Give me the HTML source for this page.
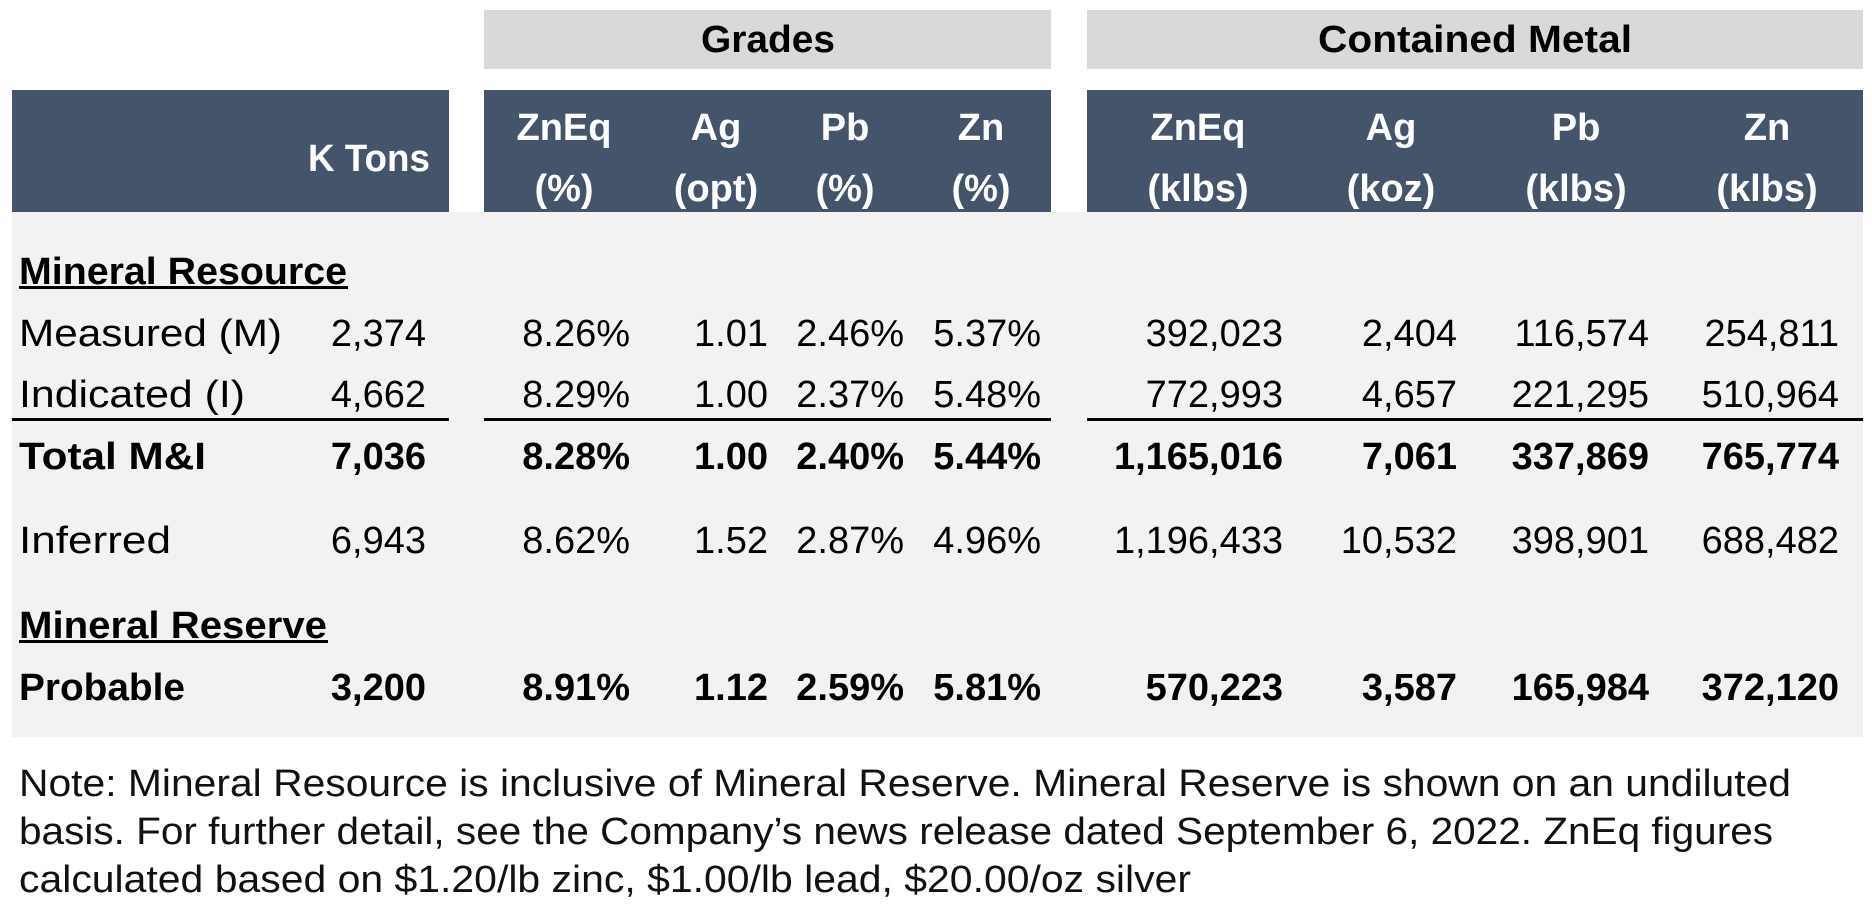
<!DOCTYPE html>
<html><head><meta charset="utf-8"><style>
html,body{margin:0;padding:0;background:#fff;}
svg{display:block;}
text{font-family:"Liberation Sans",Arial,sans-serif;fill:#000;}
.n{font-size:38px;text-anchor:end;dominant-baseline:central;}
.b{font-weight:bold;}
.h{font-size:38px;font-weight:bold;fill:#fff;text-anchor:middle;dominant-baseline:central;}
.l{font-size:38px;dominant-baseline:central;}
</style></head><body>
<svg width="1872" height="918" viewBox="0 0 1872 918" xmlns="http://www.w3.org/2000/svg">
<rect x="484" y="10" width="567" height="59" fill="#d9d9d9"/>
<rect x="1087" y="10" width="776" height="59" fill="#d9d9d9"/>
<text x="768" y="40" class="h" style="fill:#000" textLength="134" lengthAdjust="spacingAndGlyphs">Grades</text>
<text x="1475" y="40" class="h" style="fill:#000" textLength="314" lengthAdjust="spacingAndGlyphs">Contained Metal</text>
<rect x="12" y="90" width="437" height="122" fill="#44546a"/>
<rect x="484" y="90" width="567" height="122" fill="#44546a"/>
<rect x="1087" y="90" width="776" height="122" fill="#44546a"/>
<rect x="12" y="212" width="1851" height="525" fill="#f2f2f2"/>
<text x="430" y="159" class="h" style="text-anchor:end" textLength="122" lengthAdjust="spacingAndGlyphs">K Tons</text>
<g>
<text x="564" y="128" class="h">ZnEq</text><text x="564" y="189" class="h">(%)</text>
<text x="716" y="128" class="h">Ag</text><text x="716" y="189" class="h">(opt)</text>
<text x="845" y="128" class="h">Pb</text><text x="845" y="189" class="h">(%)</text>
<text x="981" y="128" class="h">Zn</text><text x="981" y="189" class="h">(%)</text>
<text x="1198" y="128" class="h">ZnEq</text><text x="1198" y="189" class="h">(klbs)</text>
<text x="1391" y="128" class="h">Ag</text><text x="1391" y="189" class="h">(koz)</text>
<text x="1576" y="128" class="h">Pb</text><text x="1576" y="189" class="h">(klbs)</text>
<text x="1767" y="128" class="h">Zn</text><text x="1767" y="189" class="h">(klbs)</text>
</g>
<text x="19" y="272" class="l b" textLength="328" lengthAdjust="spacingAndGlyphs">Mineral Resource</text>
<rect x="19" y="286" width="329" height="3" fill="#000"/>
<text x="19" y="334" class="l" textLength="263" lengthAdjust="spacingAndGlyphs">Measured (M)</text>
<text x="19" y="395" class="l" textLength="226" lengthAdjust="spacingAndGlyphs">Indicated (I)</text>
<text x="19" y="457" class="l b" textLength="187" lengthAdjust="spacingAndGlyphs">Total M&amp;I</text>
<text x="19" y="541" class="l" textLength="152" lengthAdjust="spacingAndGlyphs">Inferred</text>
<text x="19" y="626" class="l b" textLength="308" lengthAdjust="spacingAndGlyphs">Mineral Reserve</text>
<rect x="19" y="640" width="309" height="3" fill="#000"/>
<text x="19" y="688" class="l b" textLength="166" lengthAdjust="spacingAndGlyphs">Probable</text>
<rect x="12" y="418" width="437" height="3" fill="#000"/>
<rect x="484" y="418" width="567" height="3" fill="#000"/>
<rect x="1087" y="418" width="776" height="3" fill="#000"/>
<g>
<text x="426" y="334" class="n">2,374</text><text x="630" y="334" class="n">8.26%</text><text x="768" y="334" class="n">1.01</text><text x="904" y="334" class="n">2.46%</text><text x="1041" y="334" class="n">5.37%</text><text x="1283" y="334" class="n">392,023</text><text x="1457" y="334" class="n">2,404</text><text x="1649" y="334" class="n">116,574</text><text x="1839" y="334" class="n">254,811</text>
<text x="426" y="395" class="n">4,662</text><text x="630" y="395" class="n">8.29%</text><text x="768" y="395" class="n">1.00</text><text x="904" y="395" class="n">2.37%</text><text x="1041" y="395" class="n">5.48%</text><text x="1283" y="395" class="n">772,993</text><text x="1457" y="395" class="n">4,657</text><text x="1649" y="395" class="n">221,295</text><text x="1839" y="395" class="n">510,964</text>
<text x="426" y="457" class="n b">7,036</text><text x="630" y="457" class="n b">8.28%</text><text x="768" y="457" class="n b">1.00</text><text x="904" y="457" class="n b">2.40%</text><text x="1041" y="457" class="n b">5.44%</text><text x="1283" y="457" class="n b">1,165,016</text><text x="1457" y="457" class="n b">7,061</text><text x="1649" y="457" class="n b">337,869</text><text x="1839" y="457" class="n b">765,774</text>
<text x="426" y="541" class="n">6,943</text><text x="630" y="541" class="n">8.62%</text><text x="768" y="541" class="n">1.52</text><text x="904" y="541" class="n">2.87%</text><text x="1041" y="541" class="n">4.96%</text><text x="1283" y="541" class="n">1,196,433</text><text x="1457" y="541" class="n">10,532</text><text x="1649" y="541" class="n">398,901</text><text x="1839" y="541" class="n">688,482</text>
<text x="426" y="688" class="n b">3,200</text><text x="630" y="688" class="n b">8.91%</text><text x="768" y="688" class="n b">1.12</text><text x="904" y="688" class="n b">2.59%</text><text x="1041" y="688" class="n b">5.81%</text><text x="1283" y="688" class="n b">570,223</text><text x="1457" y="688" class="n b">3,587</text><text x="1649" y="688" class="n b">165,984</text><text x="1839" y="688" class="n b">372,120</text>
</g>
<text x="19" y="784" class="l" style="fill:#111" textLength="1772" lengthAdjust="spacingAndGlyphs">Note: Mineral Resource is inclusive of Mineral Reserve.  Mineral Reserve is shown on an undiluted</text>
<text x="19" y="832" class="l" style="fill:#111" textLength="1754" lengthAdjust="spacingAndGlyphs">basis.  For further detail, see the Company’s news release dated September 6, 2022. ZnEq figures</text>
<text x="19" y="880" class="l" style="fill:#111" textLength="1172" lengthAdjust="spacingAndGlyphs">calculated based on $1.20/lb zinc, $1.00/lb lead, $20.00/oz silver</text>
</svg>
</body></html>
